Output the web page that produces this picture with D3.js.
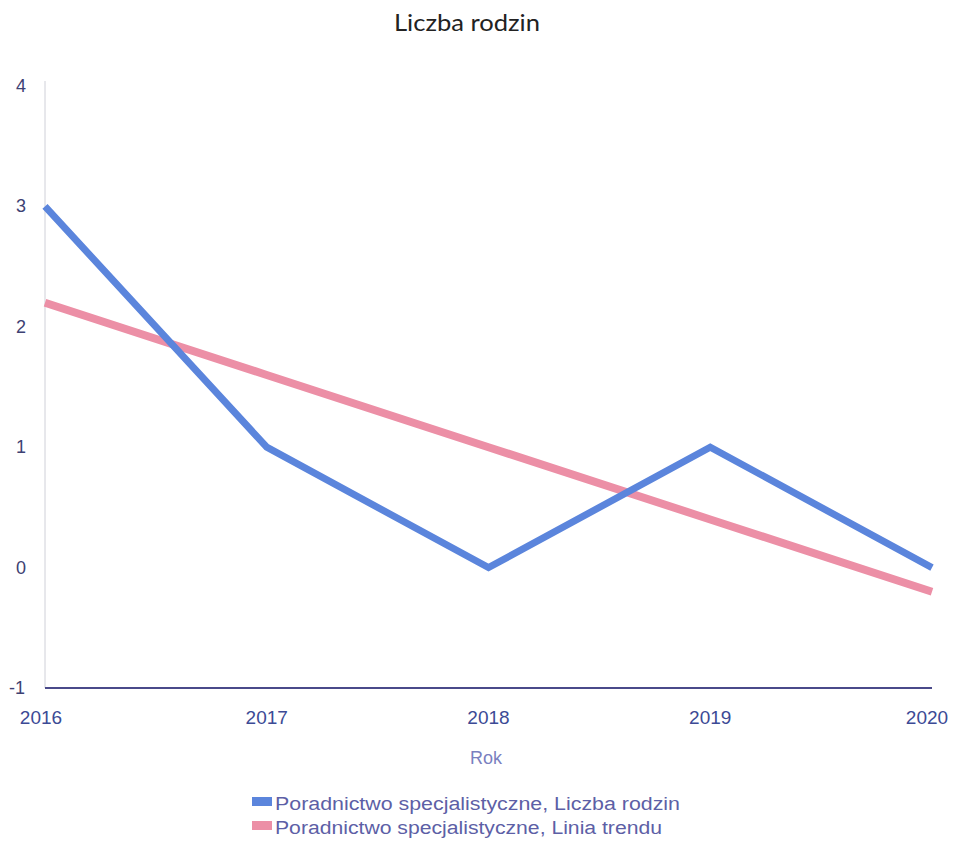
<!DOCTYPE html>
<html><head><meta charset="utf-8">
<script src="https://cdn.jsdelivr.net/npm/d3@7"></script>
<style>body{margin:0;background:#fff;}svg{display:block;}</style>
</head><body>
<script>
const years = [2016, 2017, 2018, 2019, 2020];
const families = [3, 1, 0, 1, 0];
const trend = [2.2, 1.6, 1.0, 0.4, -0.2];
const yTicks = [-1, 0, 1, 2, 3, 4];
const titleText = "Liczba rodzin";
const xTitle = "Rok";
const legendLabels = ["Poradnictwo specjalistyczne, Liczba rodzin", "Poradnictwo specjalistyczne, Linia trendu"];
const colors = ["#5b85dc", "#ec8fa6"];

const W = 955, H = 841;
const svg = d3.select("body").append("svg").attr("width", W).attr("height", H);
const mLeft = 45, mRight = 932, mTop = 86, mBottom = 688;
const x = d3.scaleLinear().domain([2016, 2020]).range([mLeft, mRight]);
const y = d3.scaleLinear().domain([-1, 4]).range([mBottom, mTop]);

svg.append("text").attr("x", 467).attr("y", 31).attr("text-anchor", "middle")
  .attr("font-family", "Lato, 'Liberation Sans', sans-serif").attr("font-size", 23).attr("fill", "#222")
  .attr("textLength", 146).attr("lengthAdjust", "spacingAndGlyphs")
  .text(titleText);

// y axis line (faint)
svg.append("line").attr("x1", mLeft).attr("x2", mLeft).attr("y1", y(4) - 5).attr("y2", mBottom)
  .attr("stroke", "#cfd0d8").attr("stroke-width", 1);

// y tick labels
svg.selectAll(".yt").data(yTicks).enter().append("text")
  .attr("x", d => d < 0 ? 17 : 21).attr("y", d => y(d) + 6).attr("text-anchor", "middle")
  .attr("font-family", "'Liberation Sans', Arial, sans-serif").attr("font-size", 18).attr("fill", "#3d4173")
  .text(d => d);

// x axis line
svg.append("line").attr("x1", mLeft).attr("x2", mRight).attr("y1", mBottom).attr("y2", mBottom)
  .attr("stroke", "#4a4a8a").attr("stroke-width", 2);

// x tick labels
svg.selectAll(".xt").data(years).enter().append("text")
  .attr("x", d => d === 2016 ? x(d) - 4 : (d === 2020 ? x(d) - 5 : x(d))).attr("y", 724).attr("text-anchor", "middle")
  .attr("font-family", "'Liberation Sans', Arial, sans-serif").attr("font-size", 19).attr("fill", "#3c4a95")
  .text(d => d);

svg.append("text").attr("x", 486).attr("y", 764).attr("text-anchor", "middle")
  .attr("font-family", "'Liberation Sans', Arial, sans-serif").attr("font-size", 18).attr("fill", "#7a7fbf")
  .text(xTitle);

const line = d3.line().x((d, i) => x(years[i])).y(d => y(d));
svg.append("path").datum(trend).attr("d", line).attr("fill", "none")
  .attr("stroke", colors[1]).attr("stroke-width", 8);
svg.append("path").datum(families).attr("d", line).attr("fill", "none")
  .attr("stroke", colors[0]).attr("stroke-width", 7).attr("stroke-linejoin", "miter");

// legend
const legendWidths = [405, 387];
legendLabels.forEach((t, i) => {
  const ly = 810 + i * 24;
  svg.append("rect").attr("x", 252).attr("y", ly - 13).attr("width", 20).attr("height", 9).attr("fill", colors[i]);
  svg.append("text").attr("x", 275).attr("y", ly)
    .attr("font-family", "'Liberation Sans', Arial, sans-serif").attr("font-size", 18).attr("fill", "#5d5fa6")
    .attr("textLength", legendWidths[i]).attr("lengthAdjust", "spacingAndGlyphs")
    .text(t);
});
</script>
</body></html>
